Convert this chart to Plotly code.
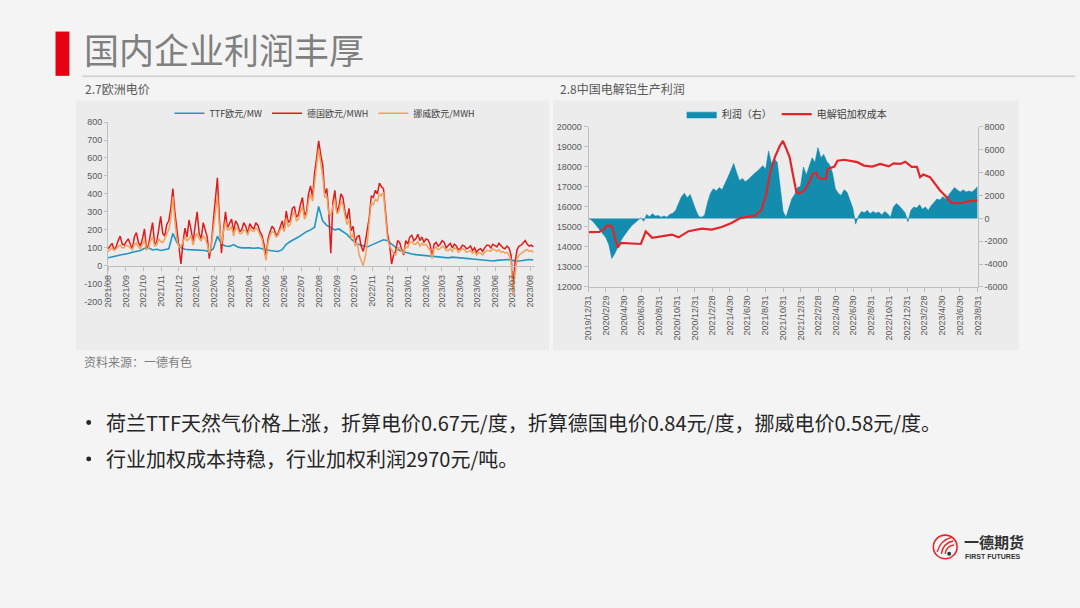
import plotly.graph_objects as go
import pandas as pd

# ---------------- Data: 2.7 欧洲电价 ----------------
ttf_dates = pd.date_range("2021-08-01", periods=106, freq="7D")
ttf = [45, 48, 55, 60, 63, 68, 75, 78, 85, 98,
       100, 88, 92, 85, 90, 95, 180, 130, 100, 92,
       90, 88, 90, 88, 85, 78, 95, 165, 120, 110,
       108, 118, 105, 100, 102, 100, 98, 100, 95, 88,
       85, 82, 80, 90, 120, 135, 150, 160, 175, 190,
       200, 215, 330, 250, 225, 210, 200, 205, 190, 175,
       150, 130, 118, 110, 105, 115, 125, 135, 145, 140,
       120, 100, 85, 78, 70, 66, 62, 60, 58, 55,
       52, 50, 48, 46, 44, 48, 45, 42, 41, 40,
       38, 36, 34, 31, 28, 27, 30, 33, 36, 35,
       30, 26, 28, 33, 35, 32]
pw_dates = pd.date_range("2021-08-01", periods=211, freq="84h")
de = [95, 110, 125, 90, 105, 140, 165, 120, 115, 135,
      150, 120, 95, 160, 185, 130, 110, 150, 205, 90,
      115, 180, 240, 120, 130, 200, 275, 180, 165, 230,
      250, 320, 430, 300, 190, 90, 10, 130, 210, 160,
      255, 200, 130, 220, 300, 180, 150, 240, 195, 160,
      40, 120, 250, 360, 490, 260, 70, 200, 300, 210,
      240, 260, 190, 250, 230, 190, 200, 240, 220, 180,
      235, 215, 205, 240, 225, 190, 170, 120, 45, 150,
      190, 220, 205, 170, 180, 220, 250, 200, 305, 240,
      255, 320, 330, 270, 285, 340, 380, 280, 300, 400,
      445, 380, 520, 600, 695, 620, 560, 400, 430, 300,
      70, 350, 420, 300, 330, 400, 380, 300, 260, 320,
      195, 220, 130, 160, 170, 110, 80, 130, 200, 270,
      390, 380, 420, 400, 460, 440, 430, 300, 180, 120,
      10, 60, 80, 140, 130, 90, 60, 140, 120, 160,
      170, 140, 150, 175, 140, 160, 130, 150, 145, 120,
      45, 120, 130, 110, 120, 140, 130, 100, 115, 125,
      100, 120, 110, 90, 95, 115, 110, 95, 100, 110,
      85, 100, 75, 90, 95, 80, 100, 115, 115, 100,
      120, 110, 105, 125, 110, 100, 95, 110, 100, 60,
      -110, 20, 90, 110, 115, 130, 140, 120, 110, 115,
      105]
no = [80, 90, 100, 85, 95, 110, 115, 100, 100, 115,
      110, 100, 90, 120, 125, 105, 95, 120, 140, 90,
      100, 140, 160, 110, 115, 150, 135, 130, 150, 180,
      200, 260, 385, 250, 150, 100, 110, 130, 165, 140,
      150, 170, 115, 160, 180, 150, 140, 170, 150, 120,
      70, 110, 210, 300, 390, 220, 120, 190, 245, 200,
      200, 220, 165, 210, 205, 180, 180, 200, 195, 170,
      210, 195, 190, 210, 200, 170, 150, 90, 30, 130,
      170, 190, 185, 160, 170, 200, 215, 190, 265, 220,
      230, 280, 300, 250, 260, 300, 330, 260, 280, 360,
      400, 360, 480, 560, 650, 580, 500, 380, 390, 290,
      280, 330, 370, 290, 300, 360, 340, 280, 230, 260,
      150, 180, 110, 130, 60, 30, 0, 50, 120, 250,
      350, 340, 370, 360, 400, 390, 410, 280, 150, 110,
      90, 70, 60, 100, 100, 80, 70, 110, 100, 130,
      135, 120, 120, 135, 110, 125, 115, 120, 100, 90,
      40, 95, 105, 90, 95, 110, 100, 85, 85, 95,
      80, 100, 95, 75, 85, 95, 90, 75, 80, 85,
      70, 80, 60, 75, 70, 60, 75, 85, 85, 80,
      95, 85, 80, 90, 75, 80, 70, 75, 60, 30,
      -160, -40, 40, 60, 70, 80, 85, 90, 80, 85,
      75]
eu_tick_dates = pd.date_range("2021-08-01", "2023-08-01", freq="MS")
eu_tick_labels = ["2021/08", "2021/09", "2021/10", "2021/11", "2021/12",
                  "2022/01", "2022/02", "2022/03", "2022/04", "2022/05",
                  "2022/06", "2022/07", "2022/08", "2022/09", "2022/10",
                  "2022/11", "2022/12", "2023/01", "2023/02", "2023/03",
                  "2023/04", "2023/05", "2023/06", "2023/07", "2023/08"]
eu_y_vals = [-200, -100, 0, 100, 200, 300, 400, 500, 600, 700, 800]
eu_y_labels = ["-200", "-100", "0", "100", "200", "300", "400", "500", "600", "700", "800"]

# ---------------- Data: 2.8 中国电解铝生产利润 ----------------
al_dates = pd.date_range("2019-12-31", "2023-08-31", periods=135)
profit = [0, -150, -400, -700, -1000, -1300, -1700, -2300, -3500, -3100,
          -2500, -2000, -1600, -1300, -900, -600, -400, -150, 50, -250,
          350, 150, 400, 200, 250, 100, 200, 100, 350, 450,
          700, 1300, 1900, 2200, 1800, 2100, 1300, 700, 150, 100,
          300, 1400, 2200, 2600, 2400, 2700, 2500, 3000, 3600, 4200,
          4800, 4000, 3300, 3500, 3200, 3400, 3700, 3900, 4100, 4400,
          4600, 4300, 5900, 4800, 5200, 4900, 2600, 600, 100, 900,
          1700, 2100, 2700, 2800, 4500, 3800, 4600, 5300, 4900, 6200,
          5300, 5600, 5000, 4700, 4000, 2600, 2200, 2000, 2500, 2300,
          1600, 900, -500, 200, 600, 500, 700, 400, 600, 450,
          550, 300, 600, 400, 100, 1000, 1300, 1100, 800, 500,
          -300, 700, 1000, 900, 1200, 800, 1000, 700, 1100, 1400,
          1700, 1600, 1900, 1700, 2000, 2300, 2700, 2500, 2300, 2500,
          2300, 2400, 2300, 2500, 2800]
cost_dates = ["2019-12-31", "2020-02-06", "2020-02-23", "2020-03-02", "2020-03-17",
              "2020-03-23", "2020-04-09", "2020-04-20", "2020-06-28", "2020-07-15",
              "2020-08-06", "2020-09-09", "2020-10-13", "2020-11-05", "2020-12-09",
              "2021-01-24", "2021-02-27", "2021-04-02", "2021-05-06", "2021-06-04",
              "2021-07-02", "2021-07-26", "2021-08-17", "2021-09-03", "2021-09-15",
              "2021-10-02", "2021-10-19", "2021-10-30", "2021-11-11", "2021-11-22",
              "2021-12-03", "2021-12-15", "2021-12-26", "2022-01-12", "2022-01-29",
              "2022-02-09", "2022-02-21", "2022-02-27", "2022-03-10", "2022-03-27",
              "2022-04-02", "2022-04-25", "2022-05-06", "2022-05-29", "2022-07-13",
              "2022-08-05", "2022-09-02", "2022-09-30", "2022-10-29", "2022-11-15",
              "2022-12-08", "2022-12-25", "2023-01-16", "2023-02-03", "2023-02-14",
              "2023-02-25", "2023-03-20", "2023-04-06", "2023-04-23", "2023-05-10",
              "2023-06-02", "2023-06-19", "2023-07-12", "2023-08-03", "2023-08-31"]
cost = [14740, 14750, 14900, 15070, 15070, 14900, 13970, 14200, 14150, 14780,
        14460, 14550, 14620, 14480, 14790, 14920, 14870, 15000, 15200, 15440,
        15520, 15570, 15850, 16670, 17650, 18480, 19050, 19300, 18890, 18500,
        17650, 16760, 16670, 16840, 17250, 17650, 17720, 17500, 17400, 17400,
        17900, 18020, 18310, 18360, 18240, 18070, 18020, 18150, 18030, 18180,
        18150, 18260, 18000, 18000, 17490, 17620, 17490, 17160, 16840, 16590,
        16210, 16180, 16210, 16290, 16320]
al_tick_dates = ["2019-12-31", "2020-02-29", "2020-04-30", "2020-06-30", "2020-08-31",
                 "2020-10-31", "2020-12-31", "2021-02-28", "2021-04-30", "2021-06-30",
                 "2021-08-31", "2021-10-31", "2021-12-31", "2022-02-28", "2022-04-30",
                 "2022-06-30", "2022-08-31", "2022-10-31", "2022-12-31", "2023-02-28",
                 "2023-04-30", "2023-06-30", "2023-08-31"]
al_tick_labels = ["2019/12/31", "2020/2/29", "2020/4/30", "2020/6/30", "2020/8/31",
                  "2020/10/31", "2020/12/31", "2021/2/28", "2021/4/30", "2021/6/30",
                  "2021/8/31", "2021/10/31", "2021/12/31", "2022/2/28", "2022/4/30",
                  "2022/6/30", "2022/8/31", "2022/10/31", "2022/12/31", "2023/2/28",
                  "2023/4/30", "2023/6/30", "2023/8/31"]
cost_tick_vals = [12000, 13000, 14000, 15000, 16000, 17000, 18000, 19000, 20000]
cost_tick_labels = ["12000", "13000", "14000", "15000", "16000", "17000", "18000", "19000", "20000"]
profit_tick_vals = [-6000, -4000, -2000, 0, 2000, 4000, 6000, 8000]
profit_tick_labels = ["-6000", "-4000", "-2000", "0", "2000", "4000", "6000", "8000"]

# ---------------- helpers (pixel -> paper) ----------------
W, H = 1080, 608
def px(x):
    return x / W
def py(y):
    return 1 - y / H

CJK = "Noto Sans CJK SC"
NUM = "Liberation Sans"
AX = "#bfbfbf"
TXT = "#595959"

fig = go.Figure()

# left chart traces
fig.add_trace(go.Scatter(x=ttf_dates, y=ttf, name="TTF欧元/MW", mode="lines",
                         line=dict(color="#2196c4", width=1.6), xaxis="x", yaxis="y", legend="legend"))
fig.add_trace(go.Scatter(x=pw_dates, y=de, name="德国欧元/MWH", mode="lines",
                         line=dict(color="#e01b1b", width=1.5), xaxis="x", yaxis="y", legend="legend"))
fig.add_trace(go.Scatter(x=pw_dates, y=no, name="挪威欧元/MWH", mode="lines",
                         line=dict(color="#f2a15a", width=1.5), xaxis="x", yaxis="y", legend="legend"))

# right chart traces
fig.add_trace(go.Scatter(x=al_dates, y=profit, name="利润（右）", mode="lines", fill="tozeroy",
                         fillcolor="#138cae", line=dict(color="#138cae", width=0.6),
                         xaxis="x2", yaxis="y3", legend="legend2"))
fig.add_trace(go.Scatter(x=cost_dates, y=cost, name="电解铝加权成本", mode="lines",
                         line=dict(color="#e2252b", width=2.2), xaxis="x2", yaxis="y2", legend="legend2"))

tickfont = dict(family=NUM, size=9, color=TXT)

fig.update_layout(
    width=W, height=H, autosize=False,
    margin=dict(l=0, r=0, t=0, b=0),
    paper_bgcolor="#f4f4f4", plot_bgcolor="rgba(0,0,0,0)",
    font=dict(family=CJK, color=TXT),
    xaxis=dict(domain=[px(104), px(535)], range=["2021-08-01", "2023-08-09"], type="date",
               anchor="free", position=py(265.7),
               tickvals=eu_tick_dates, ticktext=eu_tick_labels, tickangle=-90,
               ticks="outside", ticklen=4, tickcolor=AX, showline=True, linecolor=AX,
               linewidth=1, showgrid=False, zeroline=False, tickfont=tickfont, fixedrange=True),
    yaxis=dict(domain=[py(301.7), py(119)], range=[-200, 800], anchor="x",
               tickvals=eu_y_vals, ticktext=eu_y_labels,
               ticks="outside", ticklen=3, tickcolor=AX, showline=True, linecolor=AX,
               linewidth=1, showgrid=False, zeroline=False, tickfont=tickfont, fixedrange=True),
    xaxis2=dict(domain=[px(589), px(981.7)], range=["2019-12-31", "2023-08-31"], type="date",
                anchor="y3", tickvals=al_tick_dates, ticktext=al_tick_labels, tickangle=-90,
                ticks="outside", ticklen=4, tickcolor=AX, showline=True, linecolor=AX,
                linewidth=1, showgrid=False, zeroline=False, tickfont=tickfont, fixedrange=True),
    yaxis3=dict(domain=[py(286.7), py(124)], range=[-6000, 8000], anchor="x2", side="right",
                tickvals=profit_tick_vals, ticktext=profit_tick_labels,
                ticks="outside", ticklen=4, tickcolor=AX, showline=True, linecolor=AX,
                linewidth=1, showgrid=False, zeroline=False, tickfont=tickfont, fixedrange=True),
    yaxis2=dict(overlaying="y3", anchor="x2", side="left", range=[12000, 20000],
                tickvals=cost_tick_vals, ticktext=cost_tick_labels,
                ticks="outside", ticklen=4, tickcolor=AX, showline=True,
                linecolor=AX, linewidth=1, showgrid=False, zeroline=False, tickfont=tickfont,
                fixedrange=True),
    legend=dict(orientation="h", x=px(166), y=py(110), xanchor="left", yanchor="middle",
                font=dict(family=CJK, size=9, color="#404040"), bgcolor="rgba(0,0,0,0)",
                itemwidth=30, tracegroupgap=0),
    legend2=dict(orientation="h", x=px(683), y=py(111), xanchor="left", yanchor="middle",
                 font=dict(family=CJK, size=10, color="#404040"), bgcolor="rgba(0,0,0,0)",
                 itemwidth=30, tracegroupgap=0),
    showlegend=True,
)

shapes = [
    # chart panels
    dict(type="rect", xref="paper", yref="paper", x0=px(72), x1=px(549), y0=py(351), y1=py(97),
         fillcolor="#ececec", line=dict(width=0), layer="below"),
    dict(type="rect", xref="paper", yref="paper", x0=px(553), x1=px(1023), y0=py(351), y1=py(97),
         fillcolor="#ececec", line=dict(width=0), layer="below"),
    # title red bar
    dict(type="rect", xref="paper", yref="paper", x0=px(51), x1=px(65), y0=py(72), y1=py(27),
         fillcolor="#e60012", line=dict(width=0), layer="below"),
    # title underline
    dict(type="line", xref="paper", yref="paper", x0=px(78), x1=px(1080), y0=py(72.5), y1=py(72.5),
         line=dict(color="#d6d6d6", width=2), layer="below"),
    # bullet dots
    dict(type="circle", xref="paper", yref="paper", x0=px(82), x1=px(87), y0=py(427), y1=py(422),
         fillcolor="#262626", line=dict(width=0)),
    dict(type="circle", xref="paper", yref="paper", x0=px(82), x1=px(87), y0=py(464), y1=py(459),
         fillcolor="#262626", line=dict(width=0)),
    # logo emblem
    dict(type="circle", xref="paper", yref="paper", x0=px(937), x1=px(961), y0=py(563), y1=py(539),
         line=dict(color="#e3262b", width=1.6), fillcolor="rgba(0,0,0,0)"),
    dict(type="path", xref="paper", yref="paper",
         path=f"M {px(941)},{py(556)} Q {px(944)},{py(544)} {px(956)},{py(541)}",
         line=dict(color="#e3262b", width=1.4)),
    dict(type="path", xref="paper", yref="paper",
         path=f"M {px(945)},{py(558)} Q {px(947)},{py(547)} {px(957)},{py(545)}",
         line=dict(color="#e3262b", width=1.4)),
    dict(type="path", xref="paper", yref="paper",
         path=f"M {px(949)},{py(558)} Q {px(950)},{py(550)} {px(958)},{py(549)}",
         line=dict(color="#e3262b", width=1.4)),
    dict(type="circle", xref="paper", yref="paper", x0=px(951), x1=px(955), y0=py(560), y1=py(556),
         line=dict(width=0), fillcolor="#333333"),
]

annotations = [
    dict(text="国内企业利润丰厚", x=px(78), y=py(44), xref="paper", yref="paper",
         xanchor="left", yanchor="middle", showarrow=False,
         font=dict(family=CJK, size=35, color="#808080")),
    dict(text="2.7欧洲电价", x=px(79), y=py(85), xref="paper", yref="paper",
         xanchor="left", yanchor="middle", showarrow=False,
         font=dict(family=CJK, size=12, color="#595959")),
    dict(text="2.8中国电解铝生产利润", x=px(558), y=py(85), xref="paper", yref="paper",
         xanchor="left", yanchor="middle", showarrow=False,
         font=dict(family=CJK, size=12, color="#595959")),
    dict(text="资料来源：一德有色", x=px(78), y=py(362), xref="paper", yref="paper",
         xanchor="left", yanchor="middle", showarrow=False,
         font=dict(family=CJK, size=12, color="#7f7f7f")),
    dict(text="荷兰TTF天然气价格上涨，折算电价0.67元/度，折算德国电价0.84元/度，挪威电价0.58元/度。",
         x=px(100), y=py(424), xref="paper", yref="paper",
         xanchor="left", yanchor="middle", showarrow=False,
         font=dict(family=CJK, size=20, color="#262626")),
    dict(text="行业加权成本持稳，行业加权利润2970元/吨。",
         x=px(100), y=py(461), xref="paper", yref="paper",
         xanchor="left", yanchor="middle", showarrow=False,
         font=dict(family=CJK, size=20, color="#262626")),
    dict(text="<b>一德期货</b>", x=px(966), y=py(545), xref="paper", yref="paper",
         xanchor="left", yanchor="middle", showarrow=False,
         font=dict(family=CJK, size=15, color="#333333")),
    dict(text="<b>FIRST FUTURES</b>", x=px(967), y=py(561), xref="paper", yref="paper",
         xanchor="left", yanchor="middle", showarrow=False,
         font=dict(family=NUM, size=7, color="#333333")),
]

fig.update_layout(shapes=shapes, annotations=annotations)

fig.write_html("out.html", config={"displayModeBar": False},
               post_script="document.body.style.margin='0px';")
